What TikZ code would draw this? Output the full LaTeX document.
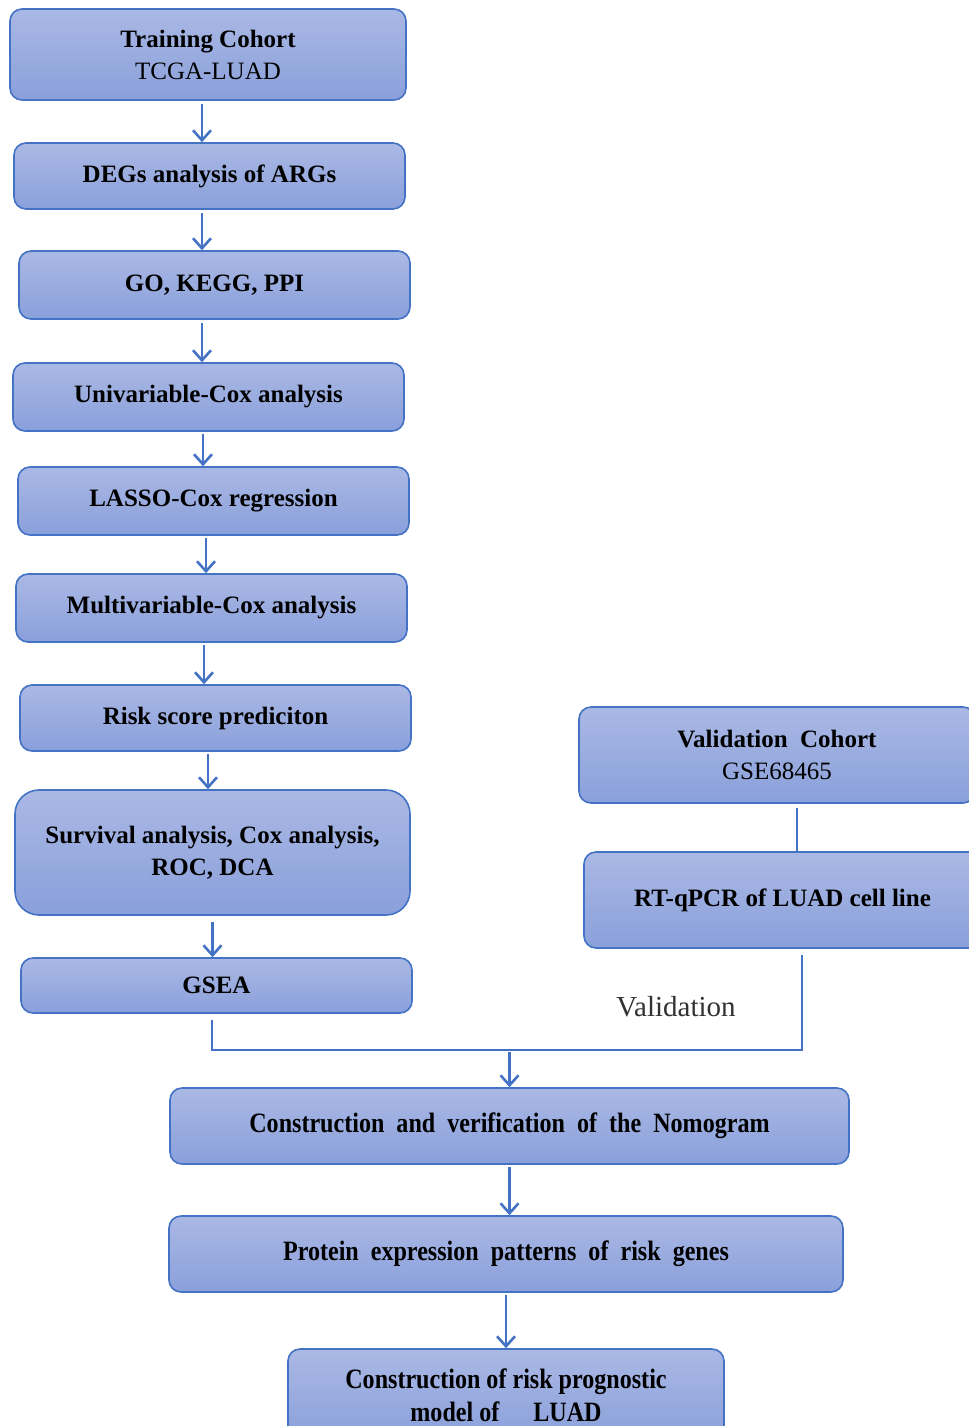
\documentclass[tikz,border=0pt]{standalone}
\usepackage{fontspec}
\setmainfont{Liberation Serif}
\newfontfamily\narrowserif[FakeStretch=0.86]{Liberation Serif}
\usetikzlibrary{arrows.meta}

\definecolor{boxline}{RGB}{68,114,196}
\definecolor{boxtop}{RGB}{170,184,228}
\definecolor{boxbottom}{RGB}{138,160,219}
\definecolor{valgray}{RGB}{50,50,50}

\tikzset{
    flowbox/.style={draw=boxline, line width=0.8pt, rounded corners=6pt,
        top color=boxtop, bottom color=boxbottom, align=center,
        font=\fontsize{12.5}{16}\selectfont\bfseries, inner sep=2pt},
    widebox/.style={flowbox, font=\fontsize{14}{16.5}\selectfont\bfseries\narrowserif},
    flowline/.style={draw=boxline, line width=1.4pt},
    flowarrow/.style={flowline, -{Straight Barb[length=5pt,width=9pt,line width=1.3pt]}}
}

\begin{document}
\begin{tikzpicture}[x=0.5pt, y=-0.5pt]
        \useasboundingbox (0,0) rectangle (969,1426);
        \clip (0,0) rectangle (969,1426);

        % training side
        \node[flowbox, minimum width=198pt, minimum height=45.5pt] (b1) at (208,54.5)
            {Training Cohort\\\mdseries TCGA-LUAD};
        \node[flowbox, minimum width=195.5pt, minimum height=33pt] (b2) at (209.5,176) {DEGs analysis of ARGs};
        \node[flowbox, minimum width=195.5pt, minimum height=34pt] (b3) at (214.5,285) {GO, KEGG, PPI};
        \node[flowbox, minimum width=195.5pt, minimum height=34pt] (b4) at (208.5,397) {Univariable-Cox analysis};
        \node[flowbox, minimum width=195.5pt, minimum height=34pt] (b5) at (213.5,501) {LASSO-Cox regression};
        \node[flowbox, minimum width=195.5pt, minimum height=34pt] (b6) at (211.5,608) {Multivariable-Cox analysis};
        \node[flowbox, minimum width=195.5pt, minimum height=33pt] (b7) at (215.5,718) {Risk score prediciton};
        \node[flowbox, rounded corners=12pt, minimum width=197.5pt, minimum height=62.5pt] (b8) at (212.5,852.5)
            {Survival analysis, Cox analysis,\\ROC, DCA};
        \node[flowbox, minimum width=195.5pt, minimum height=27.5pt] (b9) at (216.5,985.5) {GSEA};

        % validation side
        \node[flowbox, minimum width=198pt, minimum height=48pt] (b10) at (777,755)
            {Validation\ \ Cohort\\\mdseries GSE68465};
        \node[flowbox, minimum width=198.5pt, minimum height=48pt] (b11) at (782.5,900) {RT-qPCR of LUAD cell line};
        \node[font=\fontsize{14.5}{16}\selectfont, text=valgray] (val) at (676,1007) {Validation};

        % common part
        \node[widebox, minimum width=339.5pt, minimum height=38pt] (b12) at (509.5,1126)
            {Construction\ \ and\ \ verification\ \ of\ \ the\ \ Nomogram};
        \node[widebox, minimum width=337pt, minimum height=38pt] (b13) at (506,1254)
            {Protein\ \ expression\ \ patterns\ \ of\ \ risk\ \ genes};
        \node[widebox, minimum width=218pt, minimum height=46pt] (b14) at (506,1395)
            {Construction of risk prognostic\\model of \quad LUAD};

        % arrows down the left column
        \draw[flowarrow] ([xshift=-3pt,yshift=-1.5pt]b1.south) -- ([xshift=-3pt]b1.south |- b2.north);
        \draw[flowarrow] ([xshift=-3.75pt,yshift=-1.5pt]b2.south) -- ([xshift=-3.75pt]b2.south |- b3.north);
        \draw[flowarrow] ([xshift=-6.25pt,yshift=-1.5pt]b3.south) -- ([xshift=-6.25pt]b3.south |- b4.north);
        \draw[flowarrow] ([xshift=-2.75pt,yshift=-1pt]b4.south) -- ([xshift=-2.75pt]b4.south |- b5.north);
        \draw[flowarrow] ([xshift=-3.75pt,yshift=-1pt]b5.south) -- ([xshift=-3.75pt]b5.south |- b6.north);
        \draw[flowarrow] ([xshift=-3.75pt,yshift=-1pt]b6.south) -- ([xshift=-3.75pt]b6.south |- b7.north);
        \draw[flowarrow] ([xshift=-3.75pt,yshift=-1pt]b7.south) -- ([xshift=-3.75pt]b7.south |- b8.north);
        \draw[flowarrow] ([yshift=-3pt]b8.south) -- (b8.south |- b9.north);

        % joining lines
        \coordinate (jl) at (212,1050);
        \coordinate (jr) at (802,1050);
        \draw[flowline] ([xshift=10pt,yshift=-2pt]b10.south) -- ([xshift=10pt]b10.south |- b11.north);
        \draw[flowline] ([yshift=-3pt]b9.south -| jl) -- (jl) -- (jr) -- ([yshift=-3pt]b11.south -| jr);
        \draw[flowarrow] ([yshift=-1pt]b12.north |- jl) -- (b12.north);
        \draw[flowarrow] ([yshift=-1pt]b12.south) -- (b12.south |- b13.north);
        \draw[flowarrow] ([yshift=-1pt]b13.south) -- (b13.south |- b14.north);
    \end{tikzpicture}
\end{document}
